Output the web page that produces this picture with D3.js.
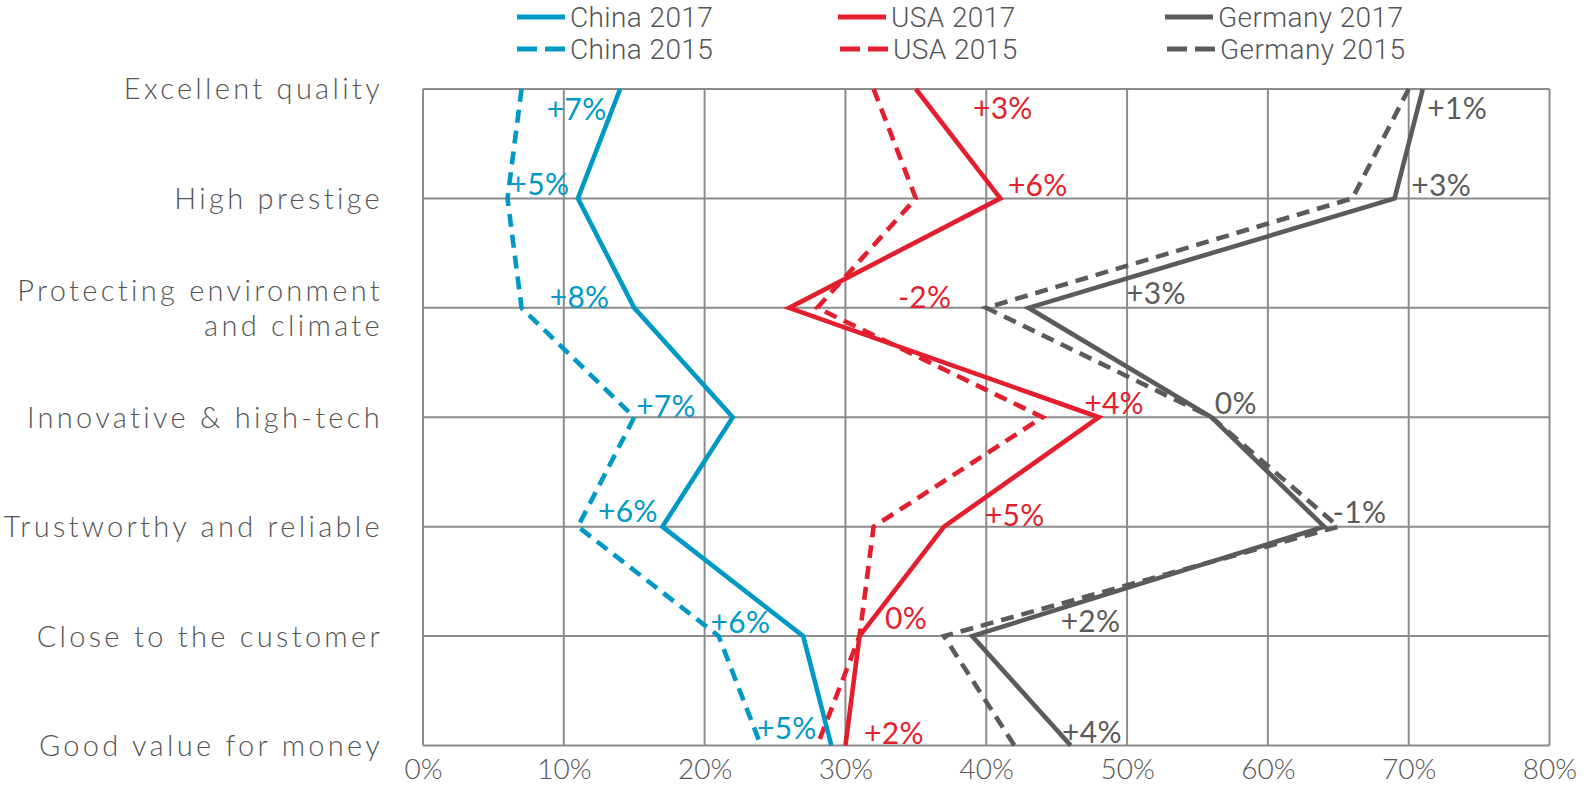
<!DOCTYPE html>
<html><head><meta charset="utf-8">
<script src="https://cdn.jsdelivr.net/npm/d3@7"></script>
<style>
html,body{margin:0;padding:0;background:#fff;}
svg{display:block;}
</style></head>
<body>
<svg id="chart" width="1586" height="805"></svg>
<script>
// ---- data ----
const categories = ["Excellent quality","High prestige","Protecting environment\nand climate","Innovative & high-tech","Trustworthy and reliable","Close to the customer","Good value for money"];
const china2017 = [14,11,15,22,17,27,29];
const china2015 = [7,6,7,15,11,21,24];
const usa2017 = [35,41,26,48,37,31,30];
const usa2015 = [32,35,28,44,32,31,28];
const germany2017 = [71,69,43,56,64,39,46];
const germany2015 = [70,66,40,56,65,37,42];
const chinaChange = ["+7%","+5%","+8%","+7%","+6%","+6%","+5%"];
const usaChange = ["+3%","+6%","-2%","+4%","+5%","0%","+2%"];
const germanyChange = ["+1%","+3%","+3%","0%","-1%","+2%","+4%"];
const xTicks = [0,10,20,30,40,50,60,70,80];

// ---- layout / style (not data) ----
const W = 1586, H = 805;
const margin = {left:423, right:36.5, top:89, bottom:59.5};
const colors = {China:"#0099c6", USA:"#e31e2d", Germany:"#5b5b5b"};
const chinaLabelOff = [[-43,20],[-38,-14],[-54,-11],[-66,-11],[-34,-15],[-62,-14],[-44,-17]];
const usaLabelOff = [[86,19],[37,-13],[134,-11],[15,-14],[70,-11],[46,-18],[48,-12]];
const germanyLabelOff = [[34,19],[46,-13],[126,-14],[24,-14],[35,-14],[117,-15],[21,-13]];

const svg = d3.select("#chart");
const x = d3.scaleLinear().domain([0,80]).range([margin.left, W - margin.right]);
const y = d3.scalePoint().domain(categories).range([margin.top, H - margin.bottom]);

const grid = svg.append("g");
grid.selectAll("line.v").data(xTicks).join("line")
  .attr("x1", d=>x(d)).attr("x2", d=>x(d))
  .attr("y1", margin.top).attr("y2", H - margin.bottom)
  .attr("stroke","#8c8c8c").attr("stroke-width",2);
grid.selectAll("line.h").data(categories).join("line")
  .attr("x1", x(0)).attr("x2", x(80))
  .attr("y1", d=>y(d)).attr("y2", d=>y(d))
  .attr("stroke","#8c8c8c").attr("stroke-width",2);

// x axis labels
const xAxis = d3.axisBottom(x).tickValues(xTicks).tickFormat(d=>d+"%").tickSize(0).tickPadding(14);
const xg = svg.append("g").attr("transform",`translate(0,${H - margin.bottom})`).call(xAxis);
xg.select(".domain").remove();
xg.selectAll("text").attr("font-family","Lato, 'Open Sans', sans-serif").attr("font-weight",300)
  .attr("font-size",28).attr("fill","#555").attr("dy","0.71em");

// y axis labels
const yAxis = d3.axisLeft(y).tickSize(0).tickPadding(0).tickFormat("");
const yg = svg.append("g").attr("transform",`translate(${x(0)},0)`).call(yAxis);
yg.select(".domain").remove();
categories.forEach(c=>{
  const lines = c.split("\n");
  const t = svg.append("text").attr("text-anchor","end")
    .attr("font-family","Lato, 'Open Sans', sans-serif").attr("font-weight",300)
    .attr("font-size",29).attr("letter-spacing","3.3px").attr("fill","#555");
  const lh = 35.5;
  lines.forEach((ln,i)=>{
    t.append("tspan").attr("x", 383).attr("y", y(c) + (i - (lines.length-1)/2)*lh).attr("dy","0.36em").text(ln);
  });
});

// lines
const line = d3.line().x(d=>x(d.v)).y(d=>y(d.c));
const series = [
  {name:"China", vals:china2015, dash:true},
  {name:"USA", vals:usa2015, dash:true},
  {name:"Germany", vals:germany2015, dash:true},
  {name:"China", vals:china2017, dash:false},
  {name:"USA", vals:usa2017, dash:false},
  {name:"Germany", vals:germany2017, dash:false}
];
series.forEach(s=>{
  svg.append("path").datum(s.vals.map((v,i)=>({v, c:categories[i]})))
    .attr("d", line).attr("fill","none")
    .attr("stroke", colors[s.name]).attr("stroke-width",4.6)
    .attr("stroke-linejoin","miter")
    .attr("stroke-dasharray", s.dash ? "13,8" : null);
});

// change labels
function labels(vals, texts, offs, color){
  svg.append("g").selectAll("text").data(vals).join("text")
    .attr("x",(d,i)=>x(d)+offs[i][0]*1.0115)
    .attr("y",(d,i)=>y(categories[i])+offs[i][1]*1.0115)
    .attr("dy","0.36em").attr("text-anchor","middle")
    .attr("font-family","Lato, 'Open Sans', sans-serif").attr("font-weight",400)
    .attr("font-size",30).attr("letter-spacing","0.3px").attr("fill",color)
    .text((d,i)=>texts[i]);
}
labels(china2017, chinaChange, chinaLabelOff, colors.China);
labels(usa2017, usaChange, usaLabelOff, colors.USA);
labels(germany2017, germanyChange, germanyLabelOff, colors.Germany);

// legend
const legendItems = [
  {label:"China 2017", color:colors.China, dash:false, x:517, y:17},
  {label:"China 2015", color:colors.China, dash:true, x:517, y:49},
  {label:"USA 2017", color:colors.USA, dash:false, x:838, y:17},
  {label:"USA 2015", color:colors.USA, dash:true, x:840, y:49},
  {label:"Germany 2017", color:colors.Germany, dash:false, x:1165, y:17},
  {label:"Germany 2015", color:colors.Germany, dash:true, x:1167, y:49}
];
const lg = svg.append("g");
legendItems.forEach(it=>{
  lg.append("line").attr("x1",it.x).attr("x2",it.x+48).attr("y1",it.y).attr("y2",it.y)
    .attr("stroke",it.color).attr("stroke-width",5)
    .attr("stroke-dasharray", it.dash ? "20,8" : null);
  lg.append("text").attr("x",it.x+53).attr("y",it.y).attr("dy","0.36em")
    .attr("font-family","Roboto, sans-serif")
    .attr("font-weight",300).attr("font-size",28).attr("letter-spacing","0.4px")
    .attr("fill","#555").text(it.label);
});
</script>
</body></html>
